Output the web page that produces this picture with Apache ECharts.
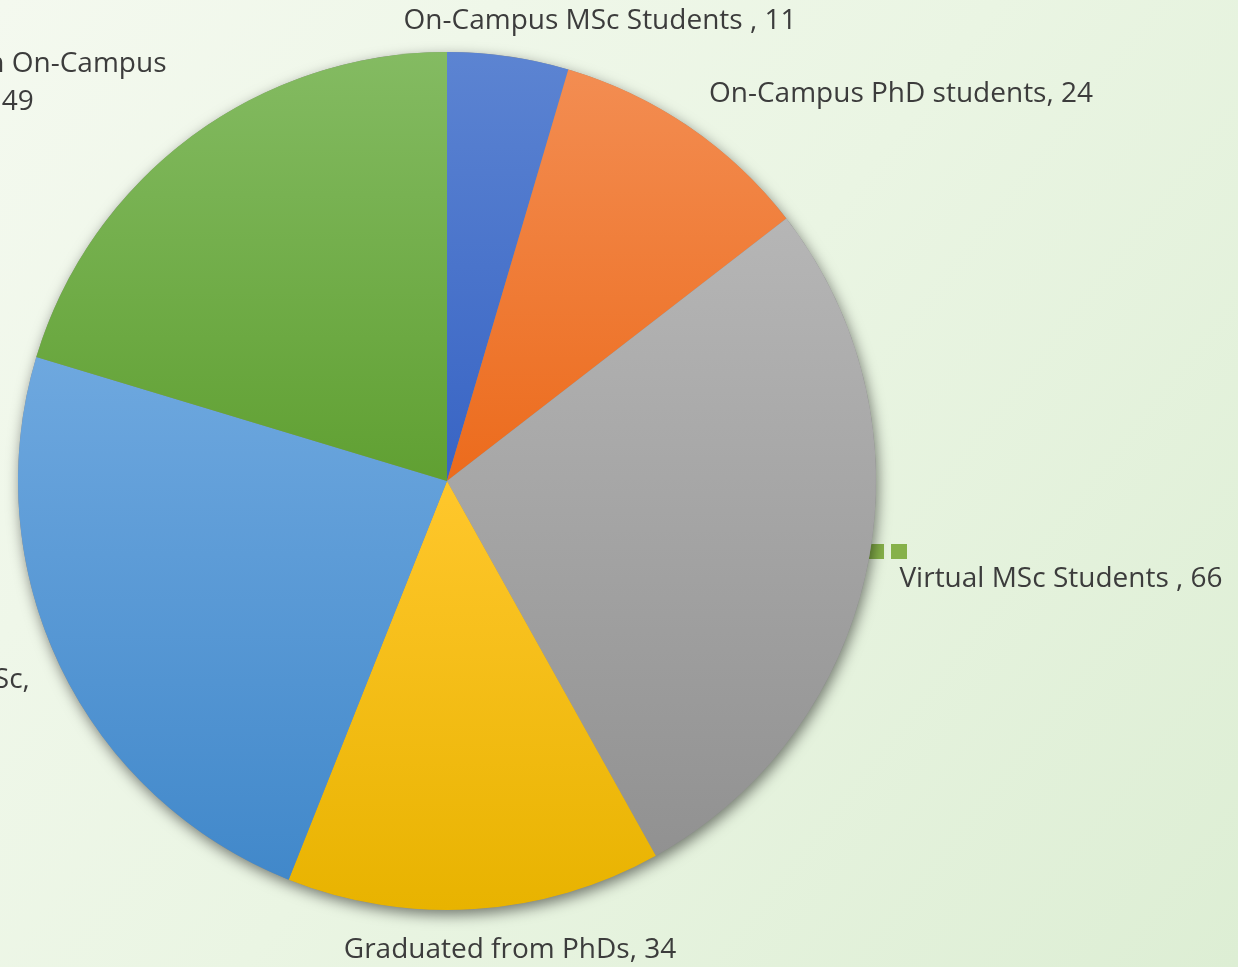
<!DOCTYPE html>
<html>
<head>
<meta charset="utf-8">
<script src="https://cdn.jsdelivr.net/npm/echarts@6/dist/echarts.min.js"></script>
<style>
html,body{margin:0;padding:0;width:1238px;height:967px;overflow:hidden;}
#c{width:1238px;height:967px;}
</style>
</head>
<body>
<div id="c"></div>
<script>
const categories = [
  'On-Campus MSc Students ',
  'On-Campus PhD students',
  'Virtual MSc Students ',
  'Graduated from PhDs',
  'Graduated from Virtual MSc',
  'Graduated from On-Campus MSc'
];
const values = [11, 24, 66, 34, 57, 49];
const labelTexts = [
  'On-Campus MSc Students , 11',
  'On-Campus PhD students, 24',
  'Virtual MSc Students , 66',
  'Graduated from PhDs, 34',
  'Graduated from Virtual MSc,\n57',
  'Graduated from On-Campus\nMSc , 49'
];
const colorTop = ['#5C84D2', '#F38D52', '#B6B6B6', '#FFC72C', '#6EA8DF', '#84BB62'];
const colorBottom = ['#3864C4', '#EC6B1C', '#919191', '#E8B300', '#4188CA', '#60A032'];

const labelPos = [
  {x: 600, y: 21},
  {x: 901, y: 94},
  {x: 1061, y: 579},
  {x: 510, y: 950},
  {x: -156, y: 699},
  {x: -20, y: 83}
];

const chart = echarts.init(document.getElementById('c'), null, {renderer: 'canvas'});
const data = categories.map((name, i) => ({
  name: name,
  value: values[i],
  label: {formatter: labelTexts[i]},
  itemStyle: {
    color: new echarts.graphic.LinearGradient(0, 0, 0, 1, [
      {offset: 0, color: colorTop[i]},
      {offset: 1, color: colorBottom[i]}
    ])
  }
}));

chart.setOption({
  animation: false,
  backgroundColor: new echarts.graphic.LinearGradient(0, 0, 1, 1, [
    {offset: 0, color: '#F4F9EF'},
    {offset: 0.5, color: '#EAF5E3'},
    {offset: 1, color: '#DDEED4'}
  ]),
  graphic: [
    {type: 'rect', shape: {x: 868, y: 544, width: 16, height: 15}, style: {fill: '#86B14A'}},
    {type: 'rect', shape: {x: 891, y: 544, width: 16, height: 15}, style: {fill: '#86B14A'}}
  ],
  series: [{
    type: 'pie',
    name: 'shadow',
    center: [447, 481],
    radius: 429,
    silent: true,
    z: 1,
    data: [{value: 1, name: ''}],
    label: {show: false},
    labelLine: {show: false},
    itemStyle: {
      color: '#888',
      shadowBlur: 14,
      shadowColor: 'rgba(0,0,0,0.5)',
      shadowOffsetY: 5,
      shadowOffsetX: 2
    },
    emphasis: {disabled: true}
  }, {
    type: 'pie',
    center: [447, 481],
    radius: 429,
    startAngle: 90,
    clockwise: true,
    z: 2,
    avoidLabelOverlap: false,
    data: data,
    label: {
      show: true,
      position: 'outside',
      color: '#3C3C3C',
      fontFamily: 'Open Sans',
      fontSize: 28,
      lineHeight: 38
    },
    labelLine: {show: false},
    emphasis: {disabled: true},
    labelLayout: function (params) {
      const p = labelPos[params.dataIndex];
      return {x: p.x, y: p.y, align: 'center', verticalAlign: 'middle', hideOverlap: false};
    }
  }]
});
</script>
</body>
</html>
